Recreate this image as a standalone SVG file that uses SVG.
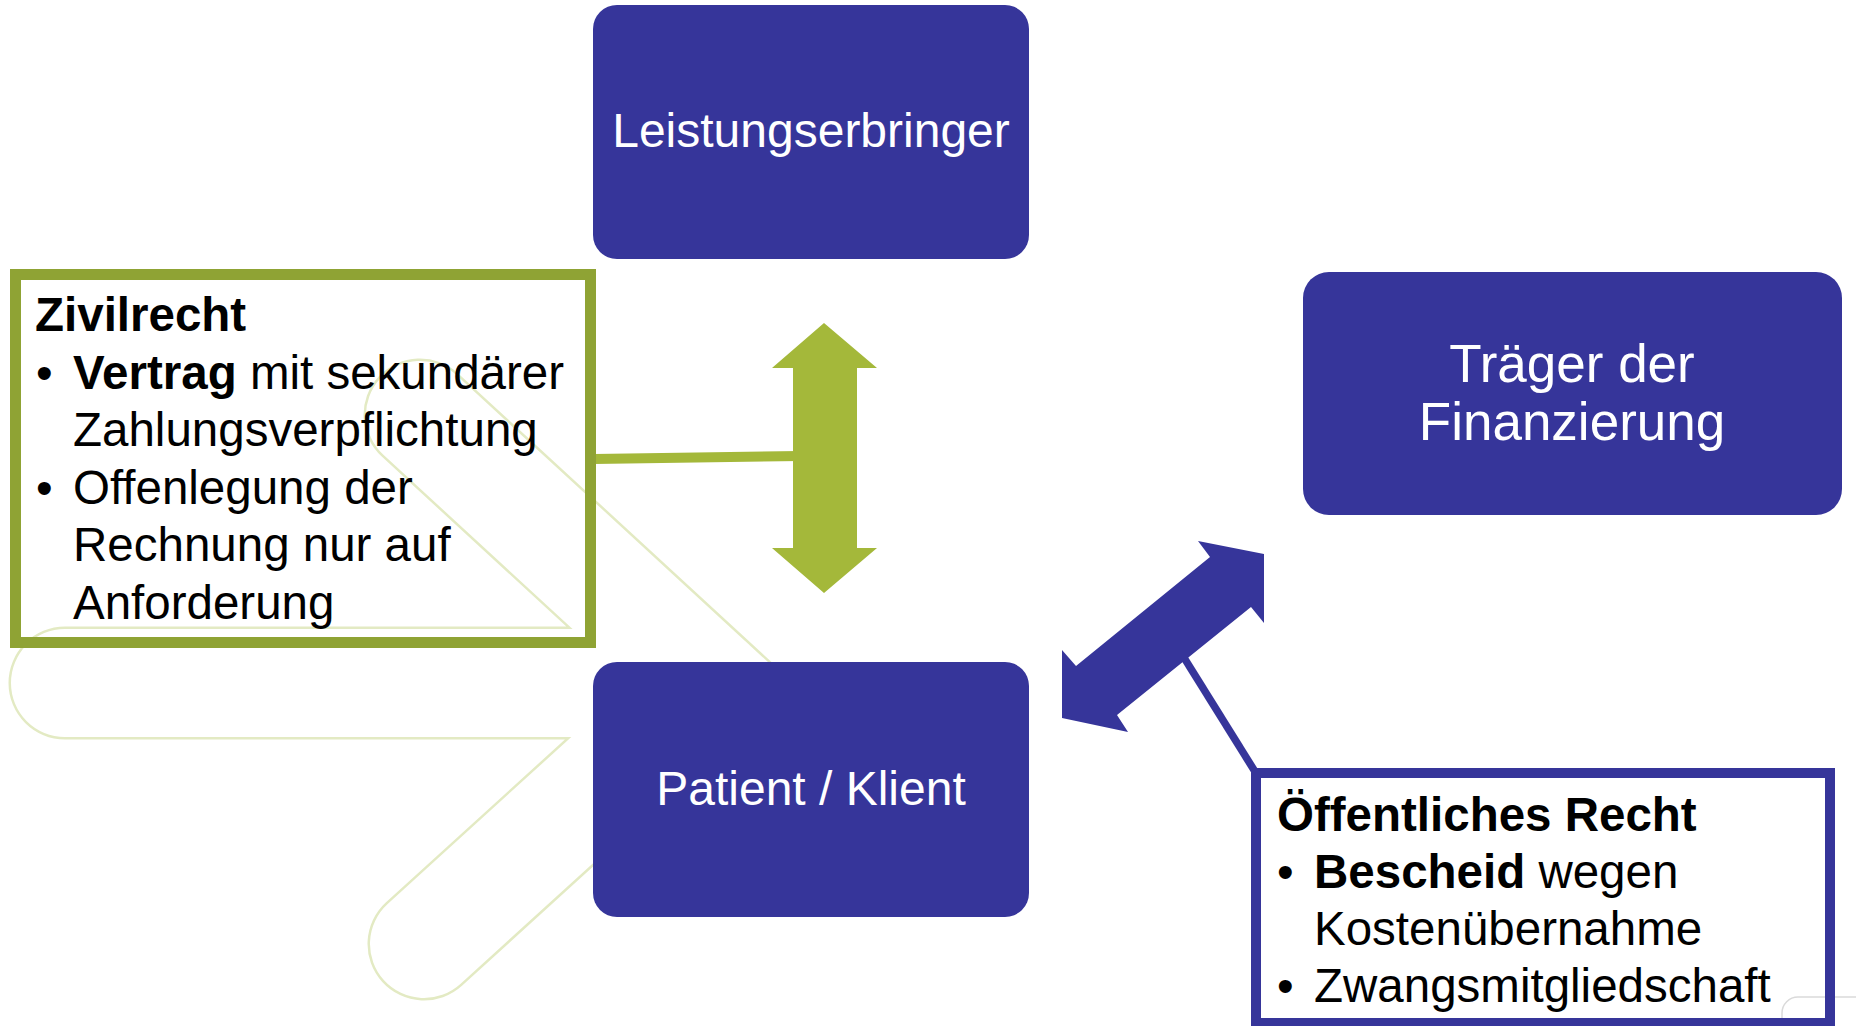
<svg xmlns="http://www.w3.org/2000/svg" width="1856" height="1026" viewBox="0 0 1856 1026">
  <style>
    .node { fill: #36359A; }
    .nodetext { font-family: "Liberation Sans", Arial, sans-serif; font-size: 48px; fill: #FFFFFF; text-anchor: middle; }
    .big { font-size: 53px; }
    .calltext { font-family: "Liberation Sans", Arial, sans-serif; font-size: 47.5px; fill: #000000; }
    .b { font-weight: bold; }
  </style>
  <rect x="0" y="0" width="1856" height="1026" fill="#FFFFFF"/>
  <g id="watermark" fill="none">
    <path d="M 420 415 L 711 683 L 424 944 M 65 683 L 711 683" stroke="#E3EAC3" stroke-width="113" stroke-linecap="round" stroke-linejoin="miter" stroke-miterlimit="10"/>
    <path d="M 420 415 L 711 683 L 424 944 M 65 683 L 711 683" stroke="#FFFFFF" stroke-width="108" stroke-linecap="round" stroke-linejoin="miter" stroke-miterlimit="10"/>
    <rect x="1782" y="997" width="130" height="70" rx="16" stroke="#DADADA" stroke-width="1.5"/>
  </g>
  <g id="connectors">
    <line x1="594" y1="459" x2="800" y2="456" stroke="#A4B83A" stroke-width="10"/>
    <polygon id="arrow-green" fill="#A4B83A" points="824,323 877,368 857,368 857,548 877,548 824,593 772,548 793,548 793,368 772,368"/>
    <line x1="1178" y1="648" x2="1254" y2="770" stroke="#36359A" stroke-width="7.5"/>
    <polygon id="arrow-blue" fill="#36359A" points="1198,541 1264,554 1264,623 1251,607 1117,715 1128,732 1062,718 1062,650 1076,666 1210,557"/>
  </g>
  <g id="node-leistungserbringer">
    <rect class="node" x="593" y="5" width="436" height="254" rx="24"/>
    <text class="nodetext" x="811" y="147">Leistungserbringer</text>
  </g>
  <g id="node-traeger">
    <rect class="node" x="1303" y="272" width="539" height="243" rx="26"/>
    <text class="nodetext big" x="1572" y="382">Träger der</text>
    <text class="nodetext big" x="1572" y="440">Finanzierung</text>
  </g>
  <g id="node-patient">
    <rect class="node" x="593" y="662" width="436" height="255" rx="24"/>
    <text class="nodetext" x="811" y="805">Patient / Klient</text>
  </g>
  <g id="callout-zivilrecht">
    <rect x="15.5" y="274.5" width="575" height="368" fill="none" stroke="#8FA334" stroke-width="11"/>
    <text class="calltext b" x="35" y="331">Zivilrecht</text>
    <text class="calltext" x="36" y="388.5">•</text>
    <text class="calltext" x="73" y="388.5"><tspan class="b">Vertrag</tspan> mit sekundärer</text>
    <text class="calltext" x="73" y="446">Zahlungsverpflichtung</text>
    <text class="calltext" x="36" y="503.5">•</text>
    <text class="calltext" x="73" y="503.5">Offenlegung der</text>
    <text class="calltext" x="73" y="561">Rechnung nur auf</text>
    <text class="calltext" x="73" y="618.5">Anforderung</text>
  </g>
  <g id="callout-oeffentlich">
    <rect x="1256" y="773" width="574" height="250" fill="none" stroke="#36359A" stroke-width="10"/>
    <text class="calltext b" x="1277" y="831">Öffentliches Recht</text>
    <text class="calltext" x="1277" y="888">•</text>
    <text class="calltext" x="1314" y="888"><tspan class="b">Bescheid</tspan> wegen</text>
    <text class="calltext" x="1314" y="945">Kostenübernahme</text>
    <text class="calltext" x="1277" y="1002">•</text>
    <text class="calltext" x="1314" y="1002">Zwangsmitgliedschaft</text>
  </g>
</svg>
